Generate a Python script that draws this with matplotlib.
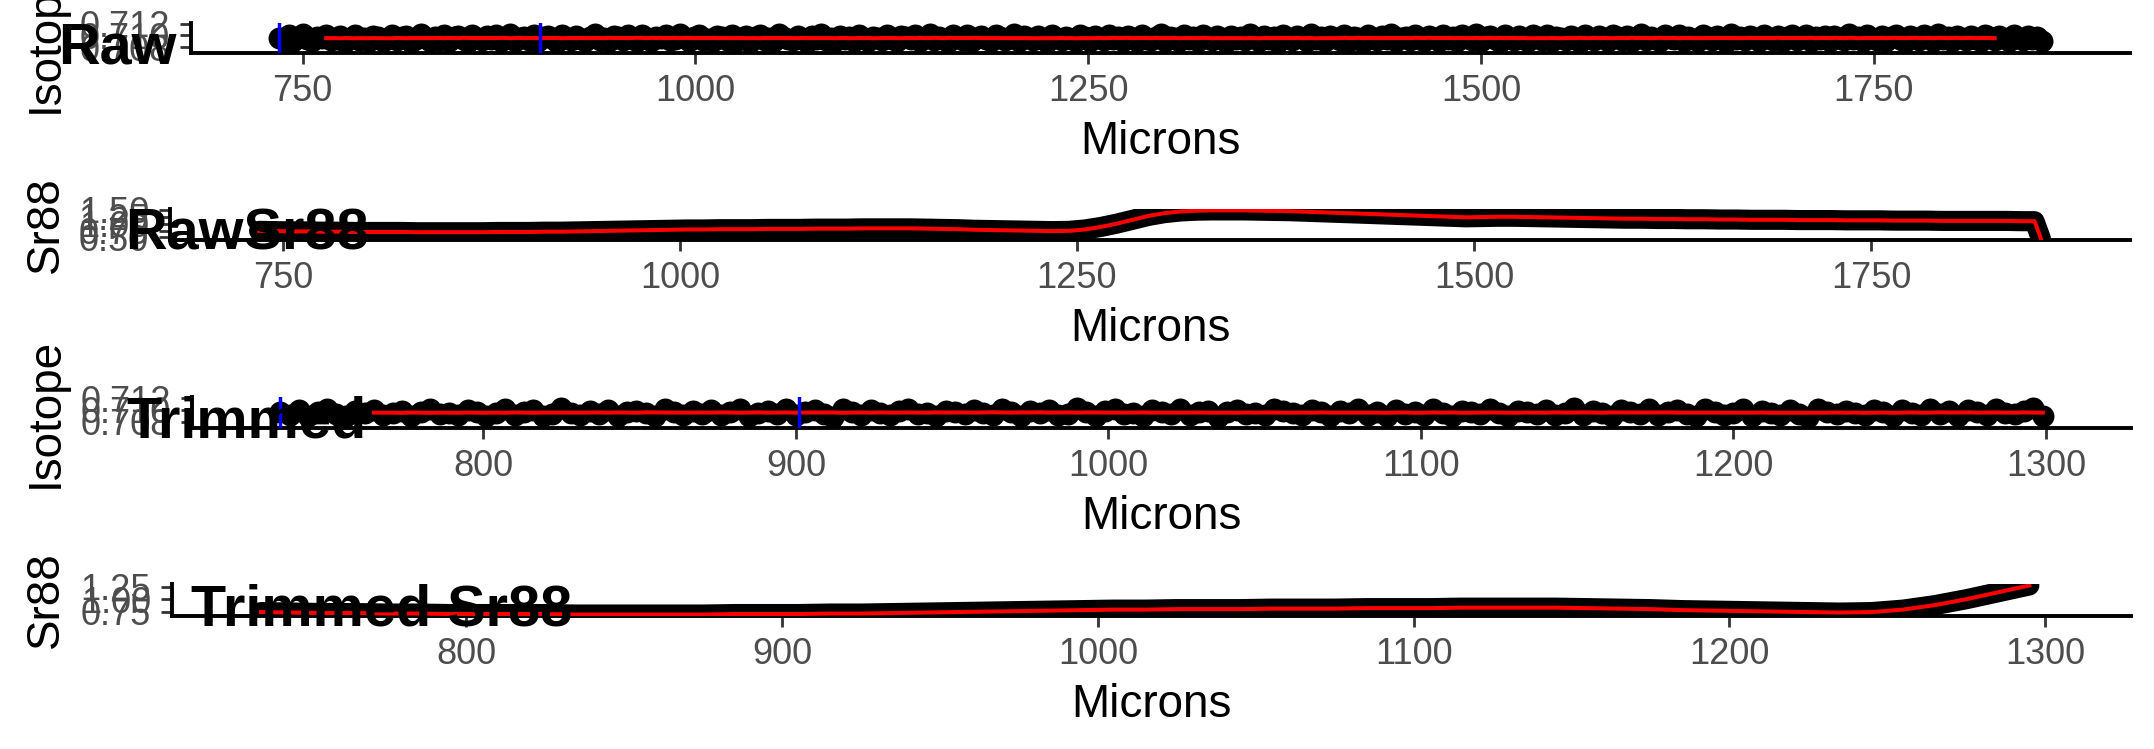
import matplotlib
matplotlib.use('Agg')

import numpy as np
import pandas as pd
import matplotlib.pyplot as plt

plt.rcParams['font.family'] = ['Liberation Sans', 'DejaVu Sans']

W, H = 2154, 749

# 87Sr/86Sr readings every 3 microns from 735 to 1857, stored as 1e-5 above 0.708
iso_microns = np.arange(735, 1858, 3)
iso_e5 = [
    160, 122, 201, 98, 170, 219, 133, 106, 180, 148, 205, 115, 141, 186, 91, 164, 213, 127, 152, 109, 193, 172, 102, 146, 210,
    120, 166, 198, 95, 136, 224, 156, 111, 177, 128, 204, 104, 168, 188, 143, 93, 217, 158, 118, 183, 139, 200, 110, 163, 222,
    100, 150, 176, 126, 209, 107, 167, 191, 133, 89, 212, 160, 119, 196, 144, 113, 181, 220, 129, 155, 101, 187, 170, 123, 206,
    142, 108, 215, 165, 96, 181, 149, 200, 116, 137, 225, 161, 105, 175, 207, 125, 146, 97, 193, 167, 130, 213, 112, 157, 185,
    88, 168, 203, 127, 151, 107, 218, 176, 140, 117, 196, 158, 94, 184, 147, 222, 121, 164, 103, 199, 134, 173, 113, 208, 151,
    104, 181, 161, 124, 212, 141, 97, 190, 167, 131, 203, 109, 154, 224, 118, 176, 144, 92, 200, 158, 128, 216, 113, 164, 191,
    136, 100, 207, 171, 122, 149, 220, 106, 183, 153, 115, 197, 133, 89, 213, 160, 127, 180, 146, 110, 201, 169, 101, 192, 154,
    118, 217, 137, 175, 96, 194, 158, 111, 210, 142, 124, 182, 225, 103, 166, 152, 108, 204, 131, 172, 98, 215, 148, 116, 188,
    162, 91, 199, 139, 177, 122, 221, 153, 106, 191, 131, 167, 95, 206, 150, 115, 186, 160, 102, 219, 141, 180, 111, 197, 151,
    128, 210, 107, 171, 148, 93, 202, 164, 120, 187, 138, 224, 104, 156, 181, 124, 209, 140, 98, 194, 163, 113, 214, 134, 176,
    107, 200, 152, 126, 222, 99, 169, 190, 141, 90, 210, 160, 119, 183, 146, 110, 205, 166, 129, 214, 103, 173, 153, 114, 195,
    135, 94, 216, 161, 122, 185, 150, 104, 208, 176, 127, 198, 111, 157, 226, 118, 168, 141, 97, 201, 158, 132, 212, 112, 180,
    145, 101, 205, 172, 120, 190, 155, 92, 220, 136, 178, 115, 197, 162, 105, 211, 149, 128, 187, 99, 166, 207, 124, 151, 216,
    109, 175, 140, 198, 96, 183, 159, 117, 223, 133, 167, 100, 203, 152, 126, 193, 106, 172, 212, 143, 89, 188, 163, 121, 208,
    152, 113, 218, 131, 177, 98, 199, 160, 119, 194, 145, 105, 209, 166, 127, 186, 148, 96, 217, 155, 116, 191, 135, 173, 103,
]

# Sr88 signal every 10 microns, plus the drop at the end of the transect
sr88_microns = list(range(735, 1846, 10)) + [1853, 1857]
sr88 = [
    0.74, 0.73, 0.72, 0.72, 0.71, 0.71, 0.70, 0.70, 0.70, 0.70,
    0.69, 0.69, 0.69, 0.69, 0.69, 0.70, 0.70, 0.70, 0.71, 0.71,
    0.72, 0.73, 0.74, 0.75, 0.76, 0.77, 0.78, 0.79, 0.79, 0.80,
    0.80, 0.80, 0.81, 0.81, 0.81, 0.82, 0.82, 0.82, 0.83, 0.83,
    0.83, 0.83, 0.82, 0.81, 0.80, 0.78, 0.77, 0.76, 0.75, 0.74,
    0.73, 0.74, 0.79, 0.88, 1.00, 1.14, 1.28, 1.38, 1.44, 1.47,
    1.48, 1.48, 1.48, 1.47, 1.46, 1.45, 1.43, 1.41, 1.39, 1.37,
    1.35, 1.33, 1.31, 1.29, 1.27, 1.25, 1.23, 1.24, 1.25, 1.25,
    1.24, 1.23, 1.22, 1.21, 1.20, 1.19, 1.18, 1.18, 1.17, 1.17,
    1.16, 1.16, 1.15, 1.15, 1.14, 1.14, 1.14, 1.13, 1.13, 1.13,
    1.12, 1.12, 1.12, 1.11, 1.11, 1.11, 1.10, 1.10, 1.10, 1.10,
    1.10, 1.09, 1.09, 0.46,
]

trim_end = 1300
blue_marks = [735, 901]
iso_ylim = (0.70696, 0.71217)
iso_yticks = [0.708, 0.710, 0.712]
raw_xticks = [750, 1000, 1250, 1500, 1750]
trim_xticks = [800, 900, 1000, 1100, 1200, 1300]

iso = pd.DataFrame({'Microns': iso_microns, 'Isotope': 0.708 + np.array(iso_e5) / 1e5})
iso['smooth'] = iso['Isotope'].rolling(21, center=True).mean()
sr = pd.DataFrame({'Microns': sr88_microns, 'Sr88': sr88})
iso_trim = iso[iso['Microns'] <= trim_end]
sr_trim = sr[sr['Microns'] <= trim_end]


def expand(lo, hi, mult=0.05):
    d = (hi - lo) * mult
    return lo - d, hi + d


def make_axes(fig, left, top, right, bottom):
    ax = fig.add_axes([left / W, 1 - bottom / H, (right - left) / W, (bottom - top) / H])
    ax.patch.set_alpha(0)
    for s in ['top', 'right']:
        ax.spines[s].set_visible(False)
    for s in ['left', 'bottom']:
        ax.spines[s].set_linewidth(2.8)
        ax.spines[s].set_color('black')
    ax.tick_params(length=8, width=2, color='#333333', labelsize=26,
                   labelcolor='#4D4D4D', pad=7)
    return ax


def iso_panel(ax, df, xlim, xticks):
    ax.scatter(df['Microns'], df['Isotope'], s=250, c='black', linewidths=0, zorder=2)
    ax.plot(df['Microns'], df['smooth'], color='#FF0000', lw=2.9, zorder=3)
    for m in blue_marks:
        ax.axvline(m, color='#0000FF', lw=2.5, zorder=4)
    ax.set_xlim(*xlim)
    ax.set_ylim(*iso_ylim)
    ax.set_xticks(xticks)
    ax.set_yticks(iso_yticks)
    ax.set_yticklabels([f'{v:.3f}' for v in iso_yticks])


def sr_panel(ax, df, xlim, xticks, yticks):
    ax.plot(df['Microns'], df['Sr88'], color='black', lw=14.5,
            solid_capstyle='round', solid_joinstyle='round', zorder=2)
    ax.plot(df['Microns'], df['Sr88'], color='#FF0000', lw=2.9, zorder=3)
    ax.set_xlim(*xlim)
    ax.set_ylim(*expand(df['Sr88'].min(), df['Sr88'].max()))
    ax.set_xticks(xticks)
    ax.set_yticks(yticks)
    ax.set_yticklabels([f'{v:.2f}' for v in yticks])


fig = plt.figure(figsize=(W / 100, H / 100), dpi=100)
fig.patch.set_facecolor('white')

raw_xlim = expand(iso['Microns'].min(), iso['Microns'].max())
trim_xlim = expand(iso_trim['Microns'].min(), iso_trim['Microns'].max())

panels = [
    # box (left, top, right, bottom), ylabel, title, title pos (left, baseline)
    ((191, 23, 2130, 53), 'Isotope', 'Raw', (58, 63)),
    ((170, 209, 2130, 240), 'Sr88', 'RawSr88', (125, 250)),
    ((192, 397, 2131, 428), 'Isotope', 'Trimmed', (126, 438)),
    ((172, 584, 2131, 616), 'Sr88', 'Trimmed Sr88', (191, 625)),
]

axes = [make_axes(fig, *p[0]) for p in panels]
iso_panel(axes[0], iso, raw_xlim, raw_xticks)
sr_panel(axes[1], sr, raw_xlim, raw_xticks, [0.50, 0.75, 1.00, 1.25, 1.50])
iso_panel(axes[2], iso_trim, trim_xlim, trim_xticks)
sr_panel(axes[3], sr_trim, trim_xlim, trim_xticks, [0.75, 1.00, 1.25])

for (box, ylab, title, tpos) in panels:
    left, top, right, bottom = box
    fig.text(46 / W, 1 - (top + bottom) / 2 / H, ylab, rotation=90,
             ha='center', va='center', fontsize=33, color='black')
    fig.text((left + right) / 2 / W, 1 - (bottom + 89) / H, 'Microns',
             ha='center', va='center', fontsize=33, color='black')
    fig.text(tpos[0] / W, 1 - tpos[1] / H, title, ha='left', va='baseline',
             fontsize=41.5, fontweight='bold', color='black')

fig.savefig('out.png', dpi=100, facecolor='white')
plt.close(fig)
